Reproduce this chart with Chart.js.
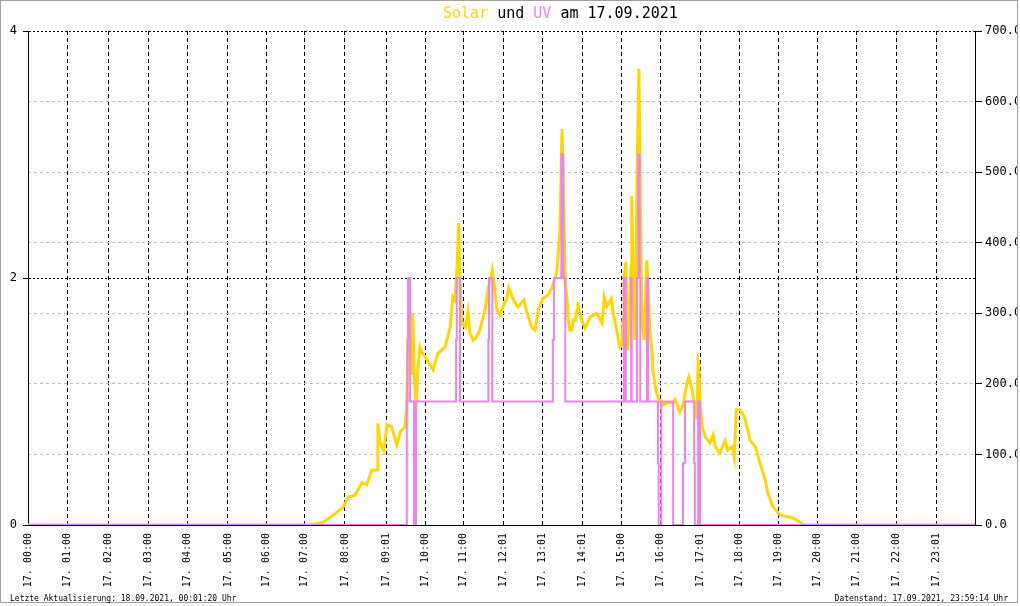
<!DOCTYPE html>
<html>
<head>
<meta charset="utf-8">
<script src="https://cdn.jsdelivr.net/npm/chart.js@4/dist/chart.umd.min.js"></script>
<style>
  html, body { margin: 0; padding: 0; background: #fff; }
  #wrap { position: relative; width: 1020px; height: 606px; overflow: hidden; background: #fff; }
  #frame { position: absolute; left: 0; top: 0; width: 1018px; height: 603px; box-sizing: border-box;
           border: 1px solid #a0a0a0; overflow: hidden; }
  #frame canvas { position: absolute; left: -1px; top: -1px; }
  .txt { position: absolute; font-family: "DejaVu Sans Mono", monospace; white-space: pre; }
  #title { left: 443px; top: 6px; font-size: 15px; line-height: 15px; color: #000; }
  #footL { left: 10px; top: 595px; font-size: 8px; line-height: 8px; color: #000; }
  #footR { right: 12px; top: 595px; font-size: 8px; line-height: 8px; color: #000; }
</style>
</head>
<body>
<div id="wrap">
  <div id="frame"><canvas id="c" width="1020" height="606"></canvas></div>
  <div id="title" class="txt"><span style="color:#FFD700">Solar</span> und <span style="color:#EE82EE">UV</span> am 17.09.2021</div>
  <div id="footL" class="txt">Letzte Aktualisierung: 18.09.2021, 00:01:20 Uhr</div>
  <div id="footR" class="txt">Datenstand: 17.09.2021, 23:59:14 Uhr</div>
</div>
<script>
// ---- data (time in minutes after midnight) ----
const xTickValues = [0,60,122,183,243,304,363,421,482,545,604,662,723,782,843,902,962,1022,1082,1141,1200,1260,1320,1381];
const xTickLabels = ["17. 00:00","17. 01:00","17. 02:00","17. 03:00","17. 04:00","17. 05:00","17. 06:00","17. 07:00",
  "17. 08:00","17. 09:01","17. 10:00","17. 11:00","17. 12:01","17. 13:01","17. 14:01","17. 15:00","17. 16:00",
  "17. 17:01","17. 18:00","17. 19:00","17. 20:00","17. 21:00","17. 22:00","17. 23:01"];

const solarTimes = [0,429,449,464,479,487,497,508,515,523,531,532,535,538,541,546,553,561,566,573,575,576,
  578,579,582,584,585,588,590,593,596,599,604,611,616,623,634,642,646,649,652,655,657,660,665,669,672,677,681,
  687,695,700,703,706,709,710,713,718,722,728,731,738,745,754,759,766,771,776,783,791,797,804,807,809,812,814,
  817,820,821,824,827,829,832,835,836,839,842,847,855,865,873,876,880,887,890,896,900,903,905,906,909,912,917,
  918,921,923,926,929,932,934,937,941,943,946,949,950,955,958,964,972,981,984,991,996,1002,1005,1010,1014,1017,
  1019,1020,1022,1025,1030,1037,1042,1045,1052,1060,1064,1071,1074,1077,1083,1090,1098,1106,1113,1121,1125,1133,
  1144,1159,1169,1179,1440];
const solarValues = [0,0,4,14,25,40,42,60,57,78,78,144,120,111,106,142,139,113,132,139,160,173,
  266,347,240,215,300,200,167,224,252,245,238,228,220,243,252,280,323,319,357,428,343,286,280,302,272,262,265,
  276,305,337,345,361,340,329,305,297,309,321,336,319,309,319,300,280,276,305,321,326,337,358,394,420,561,479,
  343,314,295,276,276,290,290,305,316,300,290,279,295,300,286,323,310,321,300,272,252,255,295,345,373,248,366,
  466,312,262,489,646,371,286,262,375,329,272,243,220,191,181,170,173,174,178,160,170,201,210,191,167,150,
  234,231,170,139,125,116,128,111,102,120,106,111,96,163,163,152,120,111,88,64,45,26,
  14,11,7,0,0];

const uvTimes  = [0,576,577,578,581,587,590,651,652,657,700,701,706,798,800,811,814,817,906,909,917,918,
  926,928,930,931,941,943,958,959,963,981,996,999,1013,1014,1019,1022,1440];
const uvValues = [0,1,1.5,2,1,0,1,1.5,2,1,1.5,2,1,1.5,2,3,2,1,2,1,2,1,
  2,3,2,1,2,1,0.5,0,1,0,0.5,1,0.5,0,1,0,0];

const uvTicks = [0, 2, 4];
const solarTicks = [0,100,200,300,400,500,600,700];

const toXY = (xs, ys) => xs.map((x, i) => ({ x: x, y: ys[i] }));
const MONO = "'DejaVu Sans Mono', monospace";

new Chart(document.getElementById('c'), {
  type: 'line',
  data: {
    datasets: [
      { label: 'UV', data: toXY(uvTimes, uvValues), yAxisID: 'y', borderColor: '#EE82EE',
        borderWidth: 2, pointRadius: 0, stepped: true, fill: false, order: 0 },
      { label: 'Solar', data: toXY(solarTimes, solarValues), yAxisID: 'y1', borderColor: '#FFD700',
        borderWidth: 3, pointRadius: 0, tension: 0, fill: false, order: 1 }
    ]
  },
  options: {
    responsive: false,
    animation: false,
    events: [],
    layout: { padding: { top: 31, left: 0, right: 0, bottom: 0 } },
    plugins: { legend: { display: false }, tooltip: { enabled: false }, title: { display: false } },
    scales: {
      x: {
        type: 'linear', min: 0, max: 1440,
        afterBuildTicks: (s) => { s.ticks = xTickValues.map(v => ({ value: v })); },
        afterFit: (s) => { s.height = 81; },
        ticks: {
          autoSkip: false, minRotation: 90, maxRotation: 90, padding: 8, color: '#000',
          font: { family: MONO, size: 10 },
          callback: (v, i) => xTickLabels[i]
        },
        grid: { color: '#000', lineWidth: 1, drawTicks: false },
        border: { color: '#000', width: 1, dash: [4, 3] }
      },
      y: {
        position: 'left', min: 0, max: 4,
        afterBuildTicks: (s) => { s.ticks = uvTicks.map(v => ({ value: v })); },
        afterFit: (s) => { s.width = 28; },
        ticks: { color: '#000', padding: 6, font: { family: MONO, size: 12 } },
        grid: { color: '#000', lineWidth: 1, drawTicks: true, tickLength: 5, tickColor: '#000', tickBorderDash: [] },
        border: { color: '#000', width: 1, dash: [2, 2] }
      },
      y1: {
        position: 'right', min: 0, max: 700,
        afterBuildTicks: (s) => { s.ticks = solarTicks.map(v => ({ value: v })); },
        afterFit: (s) => { s.width = 45; },
        ticks: { color: '#000', padding: 3, font: { family: MONO, size: 12 },
          callback: (v) => Number(v).toFixed(1) },
        grid: {
          color: (ctx) => (ctx.tick && (ctx.tick.value === 0 || ctx.tick.value === 700)) ? 'rgba(0,0,0,0)' : '#c0c0c0',
          lineWidth: 1, drawTicks: true, tickLength: 7, tickColor: '#000', tickBorderDash: []
        },
        border: { color: '#000', width: 1, dash: [3, 3] }
      }
    }
  }
});
</script>
</body>
</html>
